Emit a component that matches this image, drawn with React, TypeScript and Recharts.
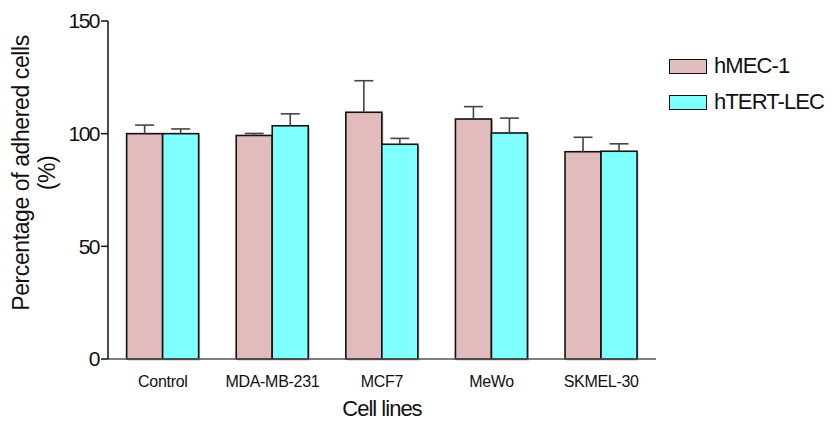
import React from "react";
import { BarChart, Bar, XAxis, YAxis } from "recharts";

const CELL_LINES = ["Control", "MDA-MB-231", "MCF7", "MeWo", "SKMEL-30"];
const HMEC = [100, 99.2, 109.5, 106.5, 92];
const HMEC_ERR = [3.8, 0.9, 14, 5.5, 6.4];
const HTERT = [100, 103.5, 95.3, 100.3, 92.2];
const HTERT_ERR = [2.1, 5.3, 2.6, 6.6, 3.3];
const Y_TICKS = [0, 50, 100, 150];

const SERIES = [
  { key: "hmec", name: "hMEC-1", color: "#e2bcbd" },
  { key: "htert", name: "hTERT-LEC", color: "#80ffff" },
];

const data = CELL_LINES.map((name, i) => ({
  name,
  hmec: HMEC[i],
  hmecErr: HMEC_ERR[i],
  htert: HTERT[i],
  htertErr: HTERT_ERR[i],
}));

const FONT = "'Liberation Sans', Arial, sans-serif";

// bar with a soft grey drop shadow and an upward-only SEM whisker
const makeBar = (valueKey: string, errKey: string) => (props: any) => {
  const { x, y, width, height, fill, payload } = props;
  const value = payload[valueKey];
  const err = payload[errKey];
  const errPx = value ? (height / value) * err : 0;
  const cx = x + width / 2;
  return (
    <g>
      <rect x={x + 1.5} y={y + 1.5} width={width} height={height} fill="#bdbdbd" />
      <rect x={x} y={y} width={width} height={height} fill={fill} stroke="#111" strokeWidth={1.6} />
      <line x1={cx} y1={y} x2={cx} y2={y - errPx} stroke="#444" strokeWidth={1.6} />
      <line x1={cx - 9.5} y1={y - errPx} x2={cx + 9.5} y2={y - errPx} stroke="#444" strokeWidth={1.6} />
    </g>
  );
};

const YTitle = () => (
  <text
    transform="translate(29,173) rotate(-90)"
    textAnchor="middle"
    fontFamily={FONT}
    fontSize={23}
    fill="#111"
    letterSpacing={-0.4}
  >
    <tspan x={0} dy={0}>Percentage of adhered cells</tspan>
    <tspan x={0} dy={26}>(%)</tspan>
  </text>
);

export default function App() {
  return (
    <div style={{ position: "absolute", left: 0, top: 0, width: 835, height: 421, background: "#fff" }}>
      <BarChart
        width={835}
        height={421}
        data={data}
        margin={{ top: 21, right: 179, bottom: 0, left: 0 }}
        barCategoryGap="17%"
        barGap={0}
      >
        <XAxis
          dataKey="name"
          height={62}
          tickLine={false}
          axisLine={{ stroke: "#555", strokeWidth: 1.5 }}
          tick={{ fontFamily: FONT, fontSize: 16, fill: "#111", letterSpacing: -0.3 }}
          tickMargin={11}
          label={{
            value: "Cell lines",
            position: "insideBottom",
            offset: 5,
            fontFamily: FONT,
            fontSize: 22,
            fill: "#111",
            letterSpacing: -1,
          }}
        />
        <YAxis
          width={108}
          domain={[0, 150]}
          ticks={Y_TICKS}
          interval={0}
          tickSize={7}
          axisLine={{ stroke: "#111", strokeWidth: 1.5 }}
          tickLine={{ stroke: "#111", strokeWidth: 1.5 }}
          tick={{ fontFamily: FONT, fontSize: 21, fill: "#111", letterSpacing: -1.5 }}
          label={<YTitle />}
        />
        <Bar dataKey="hmec" name="hMEC-1" fill={SERIES[0].color} shape={makeBar("hmec", "hmecErr")} isAnimationActive={false} />
        <Bar dataKey="htert" name="hTERT-LEC" fill={SERIES[1].color} shape={makeBar("htert", "htertErr")} isAnimationActive={false} />
      </BarChart>
      <div style={{ position: "absolute", left: 669, top: 48, fontFamily: FONT }}>
        {SERIES.map((s) => (
          <div key={s.key} style={{ display: "flex", alignItems: "center", height: 36 }}>
            <div
              style={{
                width: 36,
                height: 13,
                background: s.color,
                border: "1.5px solid #111",
                marginRight: 7,
              }}
            />
            <span style={{ fontSize: 22, letterSpacing: -0.9, color: "#111" }}>{s.name}</span>
          </div>
        ))}
      </div>
    </div>
  );
}
